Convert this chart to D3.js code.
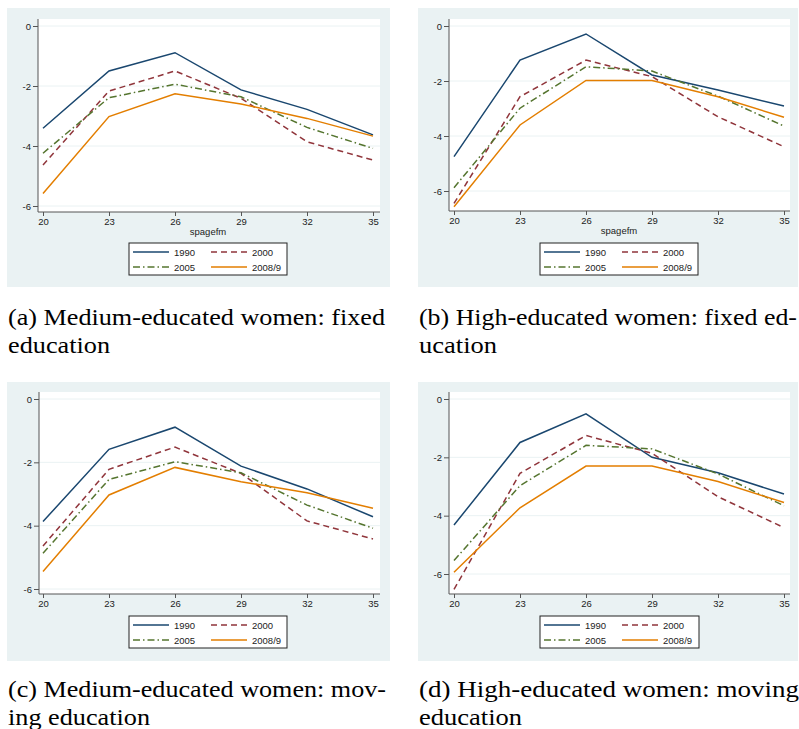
<!DOCTYPE html>
<html>
<head>
<meta charset="utf-8">
<script src="https://cdn.jsdelivr.net/npm/d3@7"></script>
<style>
  body { margin: 0; background: #fff; }
  svg { display: block; }
</style>
</head>
<body>
<svg id="chart" width="799" height="729"></svg>
<script>
const ages = [20, 23, 26, 29, 32, 35]
const years = ['1990', '2000', '2005', '2008/9']
const yTicks = [0, -2, -4, -6]

// one row per year: 1990, 2000, 2005, 2008/9
const medFixed = [
    [-3.41, -1.50, -0.89, -2.13, -2.78, -3.63],
    [-4.63, -2.17, -1.50, -2.41, -3.86, -4.47],
    [-4.24, -2.39, -1.94, -2.36, -3.38, -4.08],
    [-5.58, -3.02, -2.26, -2.60, -3.08, -3.67],
]
const highFixed = [
    [-4.75, -1.24, -0.29, -1.78, -2.33, -2.91],
    [-6.45, -2.57, -1.24, -1.84, -3.30, -4.39],
    [-5.88, -2.99, -1.48, -1.64, -2.55, -3.64],
    [-6.57, -3.60, -1.98, -1.98, -2.57, -3.32],
]
const medMoving = [
    [-3.87, -1.59, -0.89, -2.12, -2.84, -3.72],
    [-4.64, -2.22, -1.52, -2.35, -3.85, -4.42],
    [-4.87, -2.54, -1.98, -2.33, -3.35, -4.08],
    [-5.45, -3.03, -2.16, -2.61, -2.96, -3.45],
]
const highMoving = [
    [-4.32, -1.49, -0.51, -2.00, -2.53, -3.26],
    [-6.53, -2.55, -1.25, -1.86, -3.35, -4.41],
    [-5.54, -2.97, -1.59, -1.71, -2.57, -3.66],
    [-5.94, -3.73, -2.30, -2.30, -2.83, -3.55],
]

const captions = [
    ['(a) Medium-educated women: fixed', 'education'],
    ['(b) High-educated women: fixed ed-', 'ucation'],
    ['(c) Medium-educated women: mov-', 'ing education'],
    ['(d) High-educated women: moving', 'education'],
]

let colors = ['#1a476f', '#90353b', '#55752f', '#e37e00']
let dashes = [null, '6,4', '7,3,1.5,3', null]

let panels = [
    { data: medFixed, bg: [7, 8, 390, 287], plot: [38, 19, 380, 212], x: [43, 373], y: [26, 206],
      xlab: true, legend: [129, 243, 287, 275], cap: [8, 325, 377, 102] },
    { data: highFixed, bg: [418, 8, 798, 287], plot: [449, 19, 790, 211], x: [454, 784], y: [26, 191],
      xlab: true, legend: [540, 243, 698, 275], cap: [419, 325, 378, 78] },
    { data: medMoving, bg: [7, 382, 390, 661], plot: [39, 392, 380, 594], x: [43, 373], y: [399, 589],
      xlab: false, legend: [129, 616, 287, 648], cap: [8, 697, 378, 142] },
    { data: highMoving, bg: [418, 382, 798, 661], plot: [449, 392, 790, 594], x: [454, 784], y: [399, 574],
      xlab: false, legend: [540, 616, 699, 648], cap: [419, 697, 380, 103] },
]

let svg = d3.select('#chart')

panels.forEach((p, pi) => {
    let g = svg.append('g')
    let xs = d3.scaleLinear().domain([20, 35]).range(p.x)
    let ys = d3.scaleLinear().domain([0, -6]).range(p.y)
    let [l, t, r, b] = p.plot

    g.append('rect')
        .attr('x', p.bg[0]).attr('y', p.bg[1])
        .attr('width', p.bg[2] - p.bg[0]).attr('height', p.bg[3] - p.bg[1])
        .attr('fill', '#eaf2f3')
    g.append('rect')
        .attr('x', l).attr('y', t)
        .attr('width', r - l).attr('height', b - t)
        .attr('fill', '#fff')

    // grid
    g.selectAll('.grid').data(yTicks).enter().append('line')
        .attr('x1', l).attr('x2', r)
        .attr('y1', d => ys(d)).attr('y2', d => ys(d))
        .attr('stroke', '#eaf2f3').attr('stroke-width', 1)

    // lines
    let line = d3.line().x((d, i) => xs(ages[i])).y(d => ys(d))
    p.data.forEach((s, si) => {
        g.append('path')
            .attr('d', line(s))
            .attr('fill', 'none')
            .attr('stroke', colors[si])
            .attr('stroke-width', 1.5)
            .attr('stroke-dasharray', dashes[si])
    })

    // axes
    let yAxis = d3.axisLeft(ys).tickValues(yTicks).tickSize(5).tickPadding(2).tickFormat(d3.format('d'))
    let xAxis = d3.axisBottom(xs).tickValues(ages).tickSize(4).tickPadding(2)

    let ya = g.append('g').attr('transform', 'translate(' + l + ',0)').call(yAxis)
    ya.select('.domain').attr('d', 'M0,' + t + 'V' + b)
    let xa = g.append('g').attr('transform', 'translate(0,' + b + ')').call(xAxis)
    xa.select('.domain').attr('d', 'M' + l + ',0H' + r)
    ;[ya, xa].forEach(a => {
        a.selectAll('.domain').attr('stroke', '#555')
        a.selectAll('.tick line').attr('stroke', '#555')
        a.selectAll('text')
            .attr('fill', '#222')
            .style('font-family', 'Liberation Sans, Arial, sans-serif')
            .style('font-size', '9.5px')
    })
    ya.selectAll('text').text(d => d3.format('d')(d).replace('−', '-'))

    if (p.xlab) {
        g.append('text')
            .attr('x', (p.x[0] + p.x[1]) / 2).attr('y', b + 23)
            .attr('text-anchor', 'middle')
            .attr('fill', '#222')
            .style('font-family', 'Liberation Sans, Arial, sans-serif')
            .style('font-size', '9.5px')
            .text('spagefm')
    }

    // legend
    let [ll, lt, lr, lb] = p.legend
    g.append('rect')
        .attr('x', ll).attr('y', lt)
        .attr('width', lr - ll).attr('height', lb - lt)
        .attr('fill', '#fff').attr('stroke', '#222').attr('stroke-width', 1)
    years.forEach((yr, i) => {
        let col = i % 2, row = Math.floor(i / 2)
        let kx = ll + 4 + col * 78
        let ky = lt + 9 + row * 15
        g.append('line')
            .attr('x1', kx).attr('x2', kx + 36)
            .attr('y1', ky).attr('y2', ky)
            .attr('stroke', colors[i]).attr('stroke-width', 1.5)
            .attr('stroke-dasharray', dashes[i])
        g.append('text')
            .attr('x', kx + 41).attr('y', ky + 3.5)
            .attr('fill', '#222')
            .style('font-family', 'Liberation Sans, Arial, sans-serif')
            .style('font-size', '9.5px')
            .text(yr)
    })

    // caption
    let [cx, cy, w1, w2] = p.cap
    captions[pi].forEach((txt, li) => {
        svg.append('text')
            .attr('x', cx).attr('y', cy + li * 28)
            .attr('textLength', li === 0 ? w1 : w2)
            .attr('lengthAdjust', 'spacingAndGlyphs')
            .style('font-family', '"Liberation Serif", "Times New Roman", serif')
            .style('font-size', '23px')
            .attr('fill', '#000')
            .text(txt)
    })
})
</script>
</body>
</html>
